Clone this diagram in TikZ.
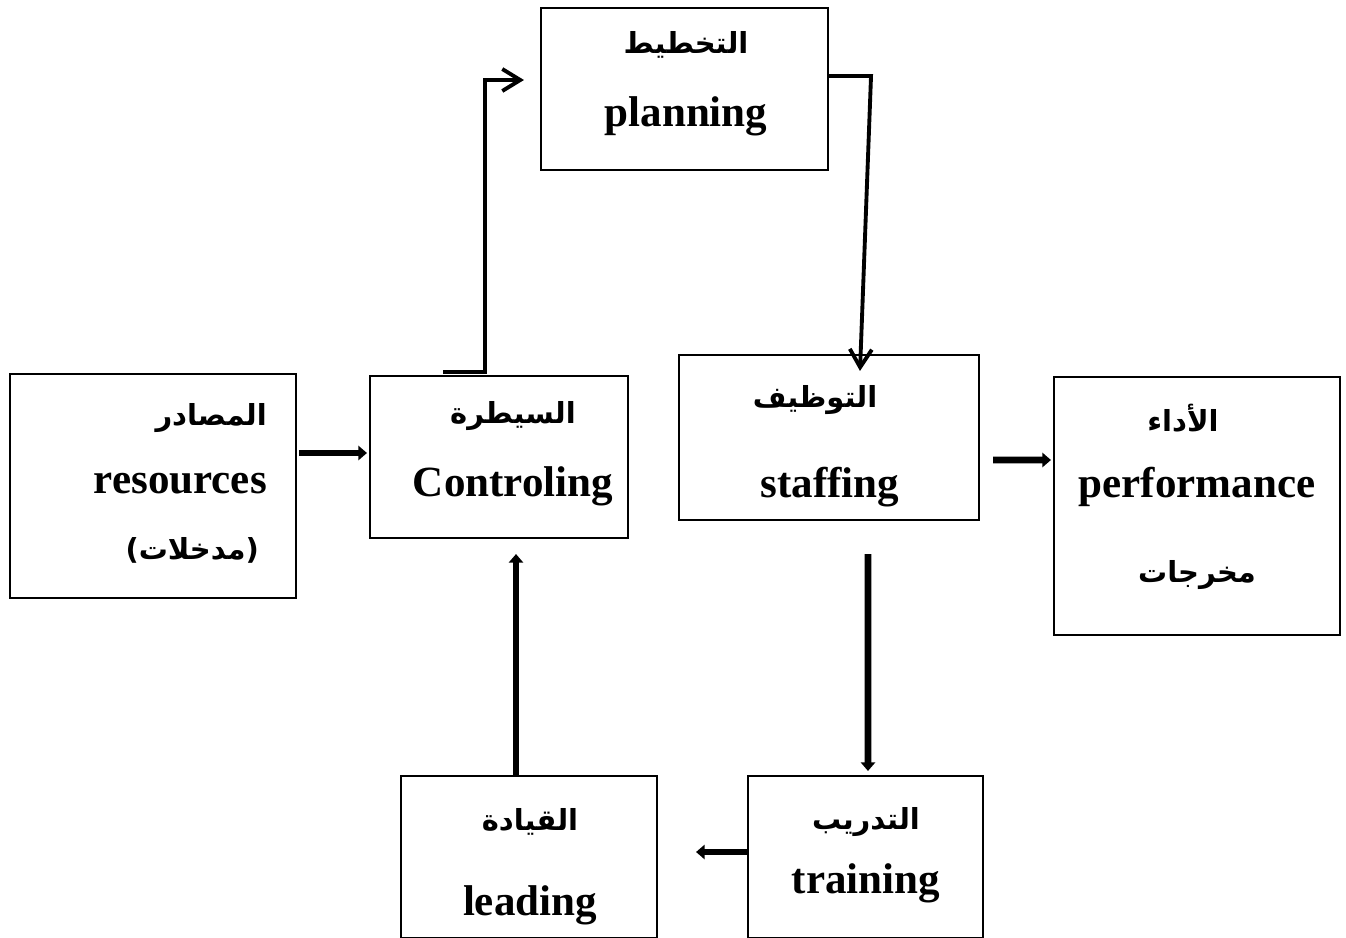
\documentclass[tikz,border=0pt]{standalone}
\usepackage{fontspec}
\setmainfont{Liberation Serif}
\newfontfamily\arabicfont[Script=Arabic]{DejaVu Sans}
\TeXXeTstate=1
\usetikzlibrary{positioning}
\usetikzlibrary{arrows.meta}
\usetikzlibrary{calc}
\tikzset{
  box/.style={draw, line width=1.2pt, inner sep=0pt},
  en/.style={anchor=base, font=\fontsize{24.5}{28}\selectfont\bfseries},
  ar/.style={font=\fontsize{16.5}{20}\selectfont\arabicfont\bfseries},
  fat/.style={line width=3.8pt, -{Triangle[length=0.17cm,width=0.28cm]}},
  thin/.style={line width=2.2pt, -{Straight Barb[length=0.36cm,width=0.44cm,line width=2.2pt]}}
}

\begin{document}
\begin{tikzpicture}[x=0.02cm,y=-0.02cm]
\useasboundingbox (0,0) rectangle (1346,937);
% boxes
\node[box, minimum width=5.72cm, minimum height=4.48cm] (res) at (153,486) {};
\node[box, minimum width=5.16cm, minimum height=3.24cm] (ctrl) at (499,457) {};
\node[box, minimum width=5.74cm, minimum height=3.24cm] (plan) at (684.5,89) {};
\node[box, minimum width=6.00cm, minimum height=3.30cm] (staff) at (829,437.5) {};
\node[box, minimum width=5.72cm, minimum height=5.16cm] (perf) at (1197,506) {};
\node[box, minimum width=5.12cm, minimum height=3.24cm] (lead) at (529,857) {};
\node[box, minimum width=4.70cm, minimum height=3.24cm] (train) at (865.5,857) {};
% texts
\node[ar, anchor=east] (resAr) at (273,418) {\beginR المصادر\endR};
\node[en, anchor=base east] (resEn) at (273,493) {resources};
\node[ar, anchor=east] (resIn) at (265,550) {\beginR(مدخلات)\endR};
\node[ar] (ctrlAr) at (513,416) {\beginR السيطرة\endR};
\node[en] (ctrlEn) at (513,496) {Controling};
\node[ar] (planAr) at (686,45) {\beginR التخطيط\endR};
\node[en] (planEn) at (686,126) {planning};
\node[ar] (staffAr) at (815,400) {\beginR التوظيف\endR};
\node[en] (staffEn) at (830,497) {staffing};
\node[ar] (perfAr) at (1183,418) {\beginR الأداء\endR};
\node[en] (perfEn) at (1197,497) {performance};
\node[ar] (perfOut) at (1197,575) {\beginR مخرجات\endR};
\node[ar] (leadAr) at (530,822) {\beginR القيادة\endR};
\node[en] (leadEn) at (530,915) {leading};
\node[ar] (trainAr) at (866,822) {\beginR التدريب\endR};
\node[en] (trainEn) at (866,893) {training};
% connectors
\draw[fat] ($(res.east)+(2,-33)$) -- ($(ctrl.west)+(-2,-4)$);
\draw[fat] ($(staff.east)+(13,22.5)$) -- ($(perf.west)+(-2,-46)$);
\draw[thin] ($(ctrl.north)+(-56,-3)$) -- ++(42,0) |- ($(plan.west)+(-16,-9)$);
\draw[thin] ($(plan.east)+(0,-13)$) -- ++(42,0) -- ($(staff.north)+(31,17)$);
\draw[fat] ($(staff.south)+(39,33)$) -- ($(train.north)+(2.5,-4)$);
\draw[fat] ($(lead.north)+(-13,0)$) -- ($(ctrl.south)+(17,15)$);
\draw[fat] ($(train.west)+(0,-5)$) -- ($(lead.east)+(38,-5)$);
\end{tikzpicture}
\end{document}
